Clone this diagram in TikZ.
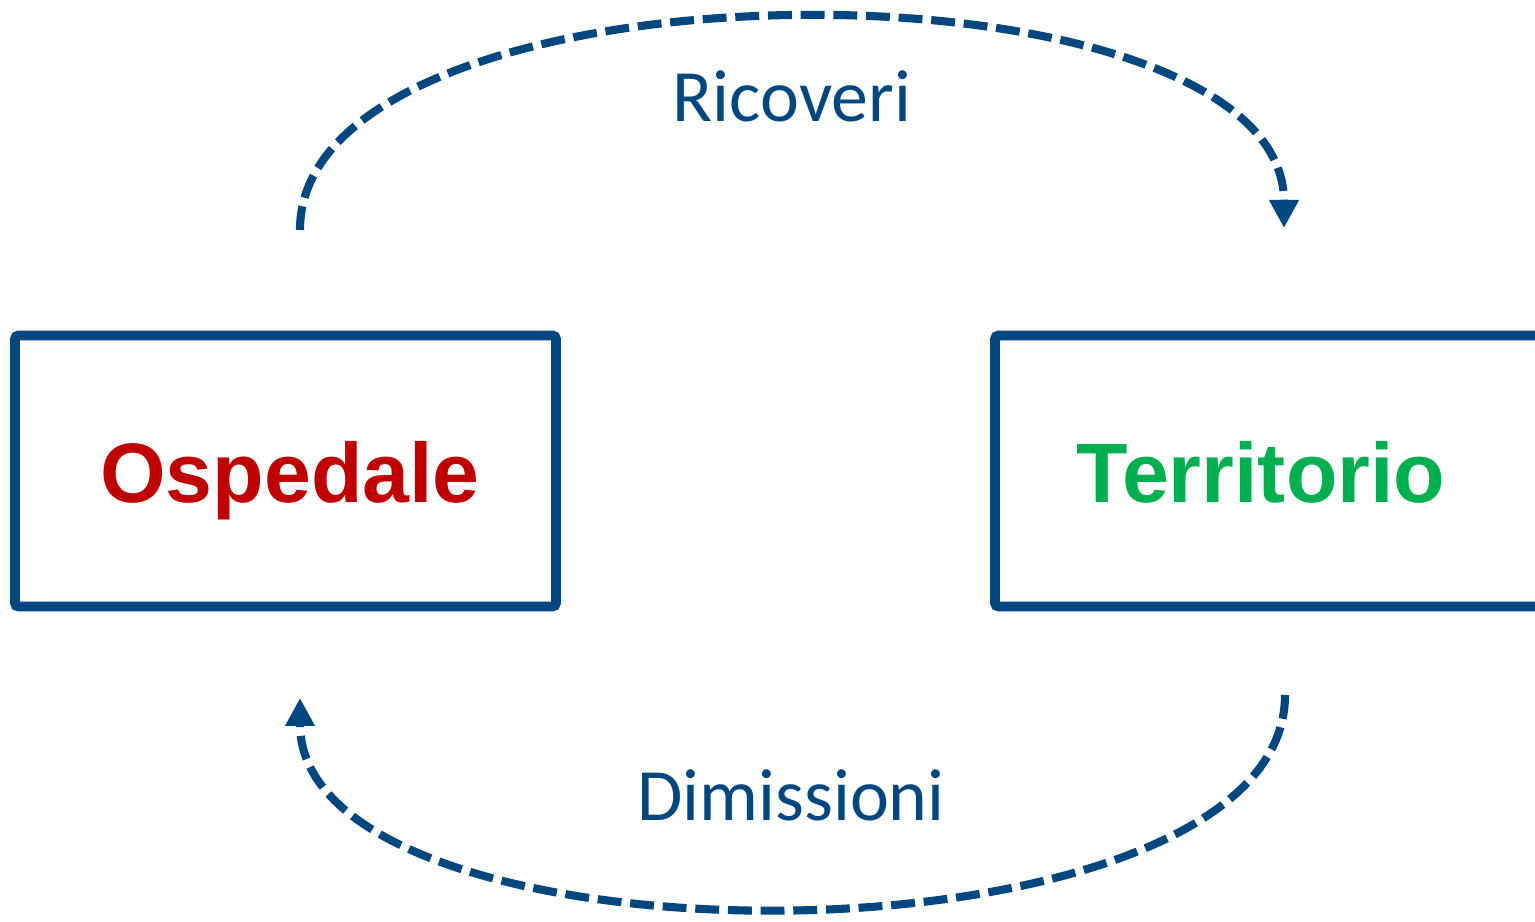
\documentclass[tikz,border=0pt]{standalone}
\usepackage{fontspec}
\setmainfont{Carlito}
\newfontfamily\arialfont{Liberation Sans}
\usetikzlibrary{arrows.meta}
\definecolor{flowblue}{RGB}{0,71,127}
\definecolor{ospred}{RGB}{192,0,0}
\definecolor{terrgreen}{RGB}{0,176,80}

\begin{document}
\begin{tikzpicture}[x=0.02cm,y=0.02cm,
  box/.style={draw=flowblue,line width=5.6pt,rounded corners=2pt,minimum height=5.42cm},
  place/.style={anchor=base,font=\arialfont\bfseries\fontsize{48}{48}\selectfont},
  flow/.style={draw=flowblue,line width=4.6pt,dash pattern=on 13.6pt off 5pt,-{Triangle[length=0.56cm,width=0.56cm]}},
  flowlabel/.style={anchor=base,text=flowblue,font=\fontsize{42}{42}\selectfont}]
\clip (0,0) rectangle (1535,922);
\node [box,minimum width=10.82cm] (ospbox) at (285.5,451) {};
\node [box,minimum width=12.1cm] (terrbox) at (1297.5,451) {};
\node [place,text=ospred] (osp) at (290,419) {Ospedale};
\node [place,text=terrgreen] (terr) at (1261,419) {Territorio};
\coordinate (ric-a) at (300,692);
\coordinate (ric-b) at (1284,694);
\coordinate (dim-a) at (1285,227);
\coordinate (dim-b) at (300,224);
\draw [flow] (ric-a) .. controls +(0,281) and +(0,281) .. (ric-b);
\draw [flow] (dim-a) .. controls +(0,-281) and +(0,-281) .. (dim-b);
\node [flowlabel] (ric) at (792,800) {Ricoveri};
\node [flowlabel] (dim) at (791,101) {Dimissioni};
\end{tikzpicture}
\end{document}
